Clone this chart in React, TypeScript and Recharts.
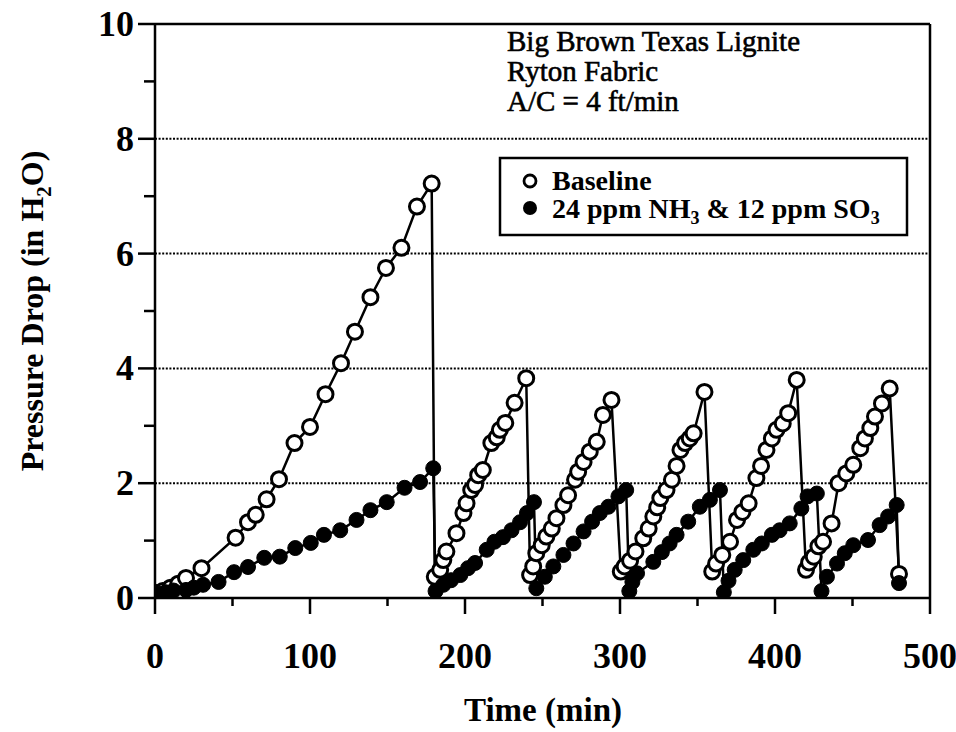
import {
  Line,
  XAxis,
  YAxis,
  LineChart,
  Customized,
  ReferenceLine,
} from "recharts";

// baseline run (open circles): time in min, pressure drop in in. H2O
const baselineTime = [
  0, 5, 10, 15, 20, 30, 52, 60, 65, 72, 80, 90, 100, 110, 120, 129, 139, 149,
  159, 169, 178.5,
  180.5, 184, 186, 188, 194.5, 199, 201, 204, 206.5, 208.5, 211.5, 217, 220.5,
  222.5, 226, 232, 239.5,
  242, 244, 246, 249.5, 252.5, 256, 259, 263.5, 266.5, 271, 273, 276.5, 280.5,
  285, 289, 294.5,
  300.5, 303, 306.5, 310, 315, 318.5, 321.5, 324, 326, 330, 333.5, 336.5, 339,
  342, 345, 347.5, 354.5,
  359.5, 362, 366, 371, 375.5, 379, 383, 388, 391, 394.5, 398, 401, 405, 408.5,
  414,
  420, 422, 425, 428, 431, 436.5, 441, 446, 450.5, 455, 458, 461.5, 464.5, 469,
  474, 480,
];
const baselineDrop = [
  0.09, 0.12, 0.18, 0.25, 0.35, 0.52, 1.05, 1.32, 1.45, 1.72, 2.07, 2.7, 2.98,
  3.55, 4.09, 4.64, 5.24, 5.75, 6.1, 6.82, 7.22,
  0.37, 0.49, 0.66, 0.81, 1.13, 1.48, 1.65, 1.88, 1.97, 2.14, 2.23, 2.7, 2.8,
  2.93, 3.05, 3.4, 3.83,
  0.4, 0.55, 0.78, 0.92, 1.07, 1.21, 1.39, 1.62, 1.79, 2.06, 2.2, 2.37, 2.55,
  2.72, 3.19, 3.45,
  0.46, 0.55, 0.65, 0.81, 1.04, 1.21, 1.42, 1.58, 1.74, 1.88, 2.06, 2.3, 2.58,
  2.7, 2.78, 2.87, 3.59,
  0.46, 0.6, 0.75, 0.98, 1.36, 1.5, 1.65, 2.09, 2.3, 2.58, 2.78, 2.93, 3.04,
  3.22, 3.8,
  0.49, 0.62, 0.72, 0.9, 0.98, 1.3, 2.0, 2.17, 2.32, 2.61, 2.78, 2.96, 3.16,
  3.39, 3.65, 0.42,
];

// NH3 + SO3 conditioned run (filled circles)
const treatedTime = [
  0, 3, 7, 12, 20, 25, 31, 41, 51, 60, 70.5, 80.5, 90.5, 100.5, 109, 119.5, 130,
  139, 149.5, 161, 171, 179.5,
  181, 186, 191, 197, 202, 206.5, 214, 219, 224.5, 230, 235.5, 240, 244.5,
  246, 251.5, 257, 263.5, 270, 276.5, 282, 287, 292.5, 299, 304,
  306, 308, 311, 321.5, 327, 332, 336.5, 344, 351.5, 358, 364.5,
  367, 370, 374, 379.5, 386, 391.5, 398, 403, 409.5, 417, 421, 427,
  430, 433.5, 440, 445, 450.5, 460, 467.5, 473, 478.5, 480,
];
const treatedDrop = [
  0.05, 0.08, 0.1, 0.13, 0.14, 0.18, 0.23, 0.28, 0.45, 0.54, 0.7, 0.72, 0.87,
  0.96, 1.1, 1.18, 1.36, 1.53, 1.67, 1.92, 2.02, 2.26,
  0.12, 0.23, 0.31, 0.4, 0.52, 0.61, 0.84, 0.98, 1.06, 1.18, 1.32, 1.48, 1.67,
  0.17, 0.37, 0.55, 0.75, 0.95, 1.16, 1.33, 1.48, 1.59, 1.77, 1.88,
  0.12, 0.28, 0.43, 0.63, 0.8, 0.95, 1.1, 1.33, 1.59, 1.71, 1.88,
  0.1, 0.3, 0.49, 0.66, 0.84, 0.95, 1.1, 1.18, 1.3, 1.56, 1.77, 1.82,
  0.12, 0.37, 0.6, 0.78, 0.92, 1.01, 1.27, 1.42, 1.62, 0.26,
];

const xTicks = [0, 50, 100, 150, 200, 250, 300, 350, 400, 450, 500];
const yTicks = [0, 1, 2, 3, 4, 5, 6, 7, 8, 9, 10];
const gridValues = [2, 4, 6, 8];
const noteLines = ["Big Brown Texas Lignite", "Ryton Fabric", "A/C = 4 ft/min"];

const baselineData = baselineTime.map((t, i) => ({ t, p: baselineDrop[i] }));
const treatedData = treatedTime.map((t, i) => ({ t, p: treatedDrop[i] }));

const FONT = "'Liberation Serif', 'DejaVu Serif', serif";
const INK = "#000";

// y tick: x arrives at the outer end of a 17px tick
const YTick = (props: any) => {
  const { x, y, payload } = props;
  const major = payload.value % 2 === 0;
  return (
    <g>
      <line
        x1={major ? x : x + 6}
        x2={x + 17}
        y1={y}
        y2={y}
        stroke={INK}
        strokeWidth={2.5}
      />
      {major && (
        <text
          x={x - 4}
          y={y + 12}
          textAnchor="end"
          fontFamily={FONT}
          fontWeight="bold"
          fontSize={36}
          fill={INK}
        >
          {payload.value}
        </text>
      )}
    </g>
  );
};

// x tick: y arrives at the lower end of a 16px tick
const XTick = (props: any) => {
  const { x, y, payload } = props;
  const major = payload.value % 100 === 0;
  return (
    <g>
      <line
        x1={x}
        x2={x}
        y1={y - 16}
        y2={major ? y : y - 8}
        stroke={INK}
        strokeWidth={2.5}
      />
      {major && (
        <text
          x={x}
          y={y + 54}
          textAnchor="middle"
          fontFamily={FONT}
          fontWeight="bold"
          fontSize={36}
          fill={INK}
        >
          {payload.value}
        </text>
      )}
    </g>
  );
};

const Annotations = () => (
  <g fontFamily={FONT} fill={INK}>
    {noteLines.map((line, i) => (
      <text
        key={line}
        x={507}
        y={51 + i * 30}
        fontSize={29}
        stroke={INK}
        strokeWidth={0.6}
      >
        {line}
      </text>
    ))}

    <rect
      x={500}
      y={158}
      width={407}
      height={77}
      fill="#fff"
      stroke={INK}
      strokeWidth={2.5}
    />
    <circle cx={530} cy={181} r={6} fill="#fff" stroke={INK} strokeWidth={2.8} />
    <text x={552} y={190} fontSize={28} fontWeight="bold">
      Baseline
    </text>
    <circle cx={530} cy={208} r={7} fill={INK} />
    <text x={552} y={218} fontSize={28} fontWeight="bold">
      24 ppm NH
      <tspan dy={6} fontSize={18}>3</tspan>
      <tspan dy={-6}> &amp; 12 ppm SO</tspan>
      <tspan dy={6} fontSize={18}>3</tspan>
    </text>

    <text
      x={543}
      y={721}
      textAnchor="middle"
      fontSize={33}
      fontWeight="bold"
    >
      Time (min)
    </text>
    <text
      transform="translate(43, 311) rotate(-90)"
      textAnchor="middle"
      fontSize={32}
      fontWeight="bold"
    >
      Pressure Drop (in H
      <tspan dy={8} fontSize={21}>2</tspan>
      <tspan dy={-8}>O)</tspan>
    </text>
  </g>
);

export default function App() {
  return (
    <div style={{ position: "absolute", left: 0, top: 0, background: "#fff" }}>
      <LineChart
        width={956}
        height={732}
        margin={{ top: 24, right: 26, bottom: 34, left: 95 }}
      >
        <XAxis
          type="number"
          dataKey="t"
          domain={[0, 500]}
          ticks={xTicks}
          interval={0}
          height={100}
          stroke={INK}
          strokeWidth={2.5}
          tickLine={false}
          tickSize={16}
          tickMargin={0}
          tick={<XTick />}
          allowDataOverflow
        />
        <YAxis
          type="number"
          dataKey="p"
          domain={[0, 10]}
          ticks={yTicks}
          interval={0}
          width={60}
          stroke={INK}
          strokeWidth={2.5}
          tickLine={false}
          tickSize={17}
          tickMargin={0}
          tick={<YTick />}
          allowDataOverflow
        />
        {gridValues.map((v) => (
          <ReferenceLine
            key={v}
            y={v}
            stroke={INK}
            strokeWidth={2}
            strokeDasharray="2 1.6"
          />
        ))}
        <ReferenceLine y={10} stroke={INK} strokeWidth={2.5} />
        <ReferenceLine x={500} stroke={INK} strokeWidth={2.5} />
        <Line
          data={baselineData}
          dataKey="p"
          type="linear"
          stroke={INK}
          strokeWidth={2.5}
          dot={{ r: 7.5, fill: "#fff", stroke: INK, strokeWidth: 3 }}
          activeDot={false}
          isAnimationActive={false}
        />
        <Line
          data={treatedData}
          dataKey="p"
          type="linear"
          stroke={INK}
          strokeWidth={2.5}
          dot={{ r: 7.5, fill: INK, stroke: INK, strokeWidth: 1 }}
          activeDot={false}
          isAnimationActive={false}
        />
        <Customized component={<Annotations />} />
      </LineChart>
    </div>
  );
}
